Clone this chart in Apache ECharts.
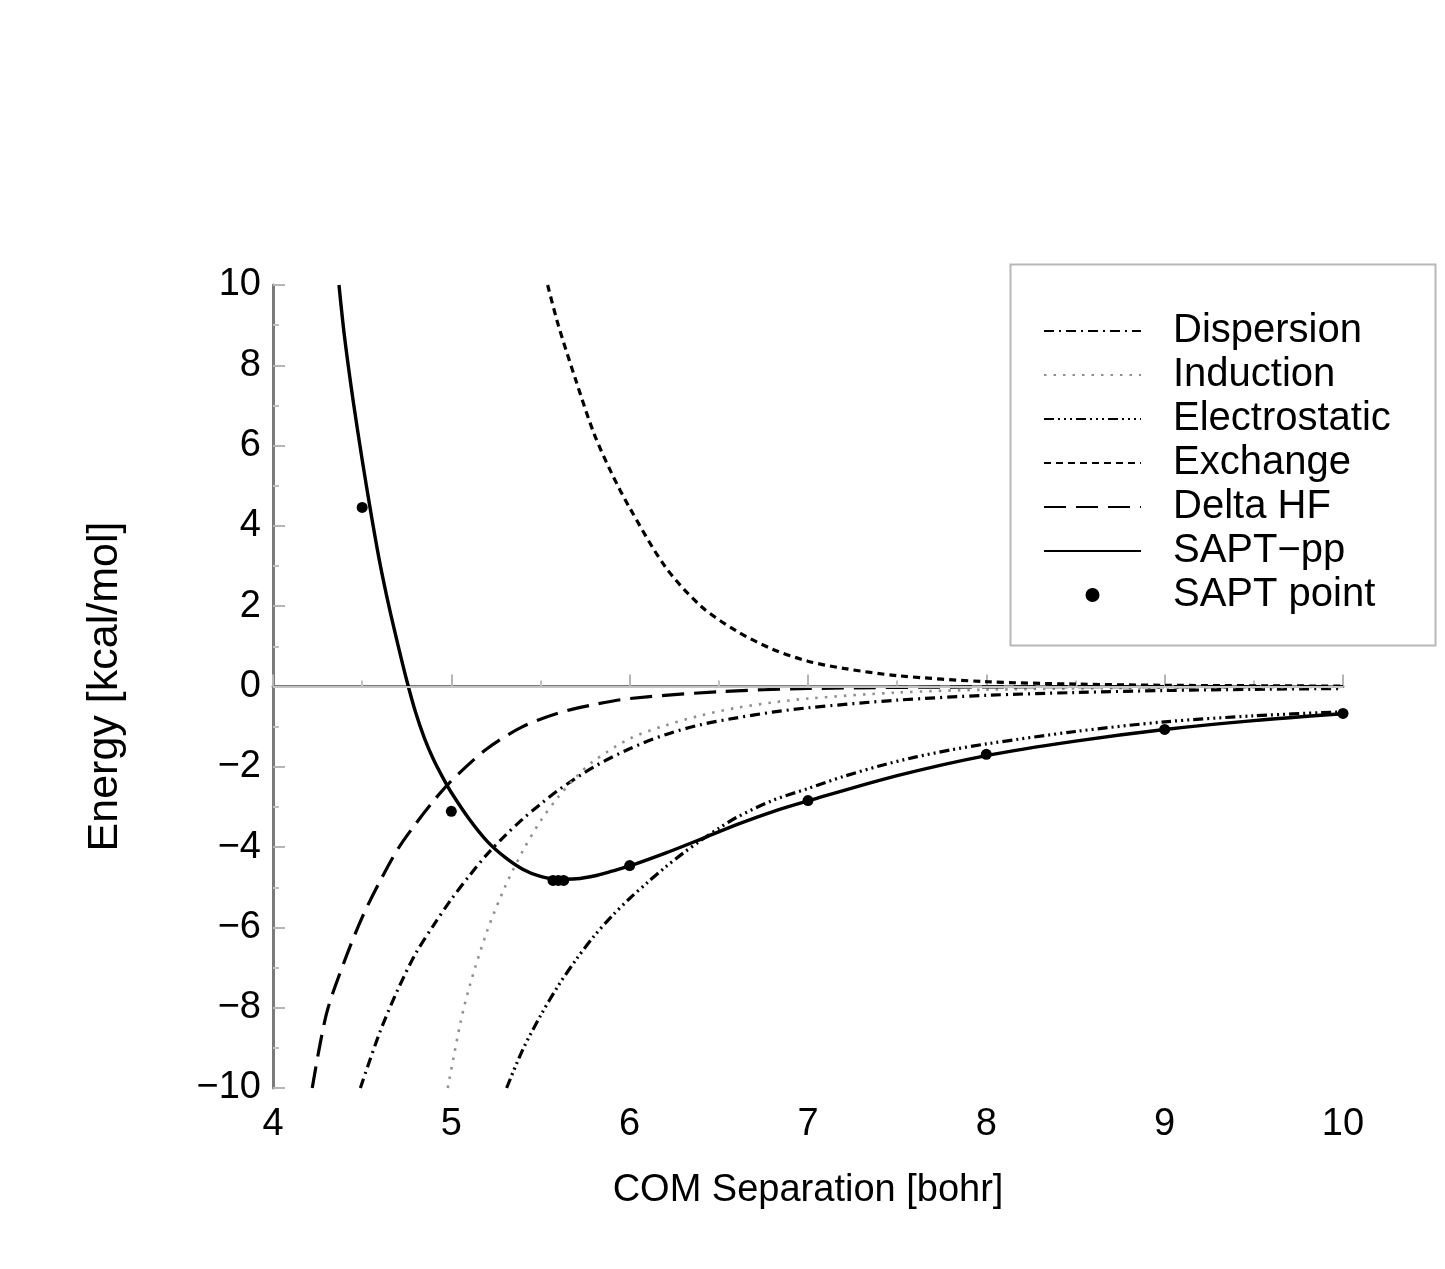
<!DOCTYPE html>
<html>
<head>
<meta charset="utf-8">
<title>SAPT energy components</title>
<script src="https://cdn.jsdelivr.net/npm/echarts@6/dist/echarts.min.js"></script>
<style>
  html, body { margin: 0; padding: 0; background: #fff; }
  #frame { position: absolute; left: 3px; top: 7px; right: 0; bottom: 0;
           border-top: 3px solid #dcdcdc; border-left: 1px solid #d0d0d0; }
  #main { position: absolute; left: 0; top: 0; width: 1445px; height: 1269px; }
</style>
</head>
<body>
<div id="frame"></div>
<div id="main"></div>
<script>
// COM separation (bohr) / energy (kcal/mol)
var sepSapt = [4.37, 4.40, 4.45, 4.50, 4.55, 4.60, 4.65, 4.70, 4.75, 4.80, 4.85, 4.90, 4.95, 5.0, 5.1, 5.2, 5.3, 5.4, 5.5, 5.6, 5.7, 5.8, 5.9, 6.0, 6.2, 6.4, 6.6, 6.8, 7.0, 7.5, 8.0, 8.5, 9.0, 9.5, 10];
var eSapt   = [10, 8.75, 7.1, 5.65, 4.3, 3.06, 2.0, 1.05, 0.15, -0.65, -1.3, -1.82, -2.25, -2.64, -3.3, -3.85, -4.25, -4.55, -4.73, -4.8, -4.79, -4.72, -4.6, -4.47, -4.15, -3.8, -3.44, -3.12, -2.85, -2.22, -1.72, -1.36, -1.07, -0.85, -0.68];

var sepDisp = [4.49, 4.6, 4.7, 4.8, 4.9, 5.0, 5.1, 5.2, 5.3, 5.4, 5.5, 5.6, 5.8, 6.0, 6.2, 6.4, 6.6, 6.8, 7.0, 7.5, 8.0, 8.5, 9.0, 9.5, 10];
var eDisp   = [-10, -8.6, -7.55, -6.65, -5.95, -5.3, -4.72, -4.18, -3.72, -3.3, -2.93, -2.58, -2.0, -1.55, -1.2, -0.95, -0.78, -0.64, -0.53, -0.34, -0.22, -0.15, -0.1, -0.07, -0.05];

var sepInd = [4.98, 5.05, 5.1, 5.2, 5.3, 5.4, 5.5, 5.6, 5.7, 5.8, 6.0, 6.2, 6.4, 6.6, 6.8, 7.0, 7.5, 8.0, 9.0, 10];
var eInd   = [-10, -8.4, -7.5, -6.1, -5.0, -4.1, -3.35, -2.75, -2.25, -1.85, -1.3, -0.97, -0.72, -0.53, -0.4, -0.3, -0.15, -0.08, -0.03, -0.01];

var sepElst = [5.31, 5.4, 5.5, 5.6, 5.7, 5.8, 5.9, 6.0, 6.1, 6.2, 6.3, 6.4, 6.5, 6.6, 6.8, 7.0, 7.2, 7.4, 7.6, 7.8, 8.0, 8.5, 9.0, 9.5, 10];
var eElst   = [-10, -9.05, -8.2, -7.45, -6.8, -6.22, -5.72, -5.28, -4.88, -4.5, -4.15, -3.83, -3.53, -3.26, -2.84, -2.54, -2.24, -1.98, -1.76, -1.58, -1.43, -1.12, -0.88, -0.73, -0.63];

var sepExch = [5.54, 5.6, 5.7, 5.8, 5.9, 6.0, 6.2, 6.4, 6.6, 6.8, 7.0, 7.2, 7.5, 8.0, 8.5, 9.0, 10];
var eExch   = [10, 9.0, 7.6, 6.3, 5.3, 4.45, 2.98, 2.0, 1.38, 0.93, 0.63, 0.45, 0.27, 0.12, 0.06, 0.03, 0.01];

var sepDhf = [4.22, 4.3, 4.4, 4.5, 4.6, 4.7, 4.8, 4.9, 5.0, 5.2, 5.4, 5.6, 5.8, 6.0, 6.5, 7.0, 8.0, 10];
var eDhf   = [-10, -8.15, -6.85, -5.75, -4.85, -4.05, -3.42, -2.85, -2.35, -1.55, -1.0, -0.66, -0.45, -0.3, -0.13, -0.05, -0.01, 0];

var sepPts = [4.5, 5.0, 5.57, 5.6, 5.63, 6.0, 7.0, 8.0, 9.0, 10];
var ePts   = [4.46, -3.11, -4.83, -4.83, -4.83, -4.46, -2.84, -1.69, -1.07, -0.67];

var FONT = 'Liberation Sans, Arial, sans-serif';

function zip(xs, ys){
  var out = [];
  for (var i = 0; i < xs.length; i++) out.push([xs[i], ys[i]]);
  return out;
}

function curve(name, xs, ys, type, color, width){
  return {
    name: name,
    type: 'line',
    data: zip(xs, ys),
    smooth: 0.3,
    symbol: 'none',
    silent: true,
    lineStyle: { color: color, width: width, type: type },
    itemStyle: { color: color }
  };
}

var myChart = echarts.init(document.getElementById('main'));

var series = [
  curve('Dispersion', sepDisp, eDisp, [10, 5, 2, 5], '#000', 3.2),
  curve('Induction', sepInd, eInd, [2.5, 7], '#8f8f8f', 2.6),
  curve('Electrostatic', sepElst, eElst, [10, 4, 2, 4, 2, 4, 2, 4], '#000', 3.2),
  curve('Exchange', sepExch, eExch, [7, 5], '#000', 3.2),
  curve('Delta HF', sepDhf, eDhf, [22, 10], '#000', 3.2),
  curve('SAPT\u2212pp', sepSapt, eSapt, 'solid', '#000', 3.4),
  {
    name: 'SAPT point',
    type: 'scatter',
    data: zip(sepPts, ePts),
    symbol: 'circle',
    symbolSize: 11,
    silent: true,
    itemStyle: { color: '#000', opacity: 1 },
    z: 5
  }
];

// zero reference line
series[0].markLine = {
  silent: true,
  symbol: 'none',
  label: { show: false },
  lineStyle: { color: '#c4c4c4', width: 2, type: 'solid' },
  data: [{ yAxis: 0 }]
};

var lineLegend = function(name){
  return { name: name, itemStyle: { opacity: 0 } };
};

var option = {
  animation: false,
  backgroundColor: '#fff',
  grid: { left: 273, right: 102, top: 285, bottom: 181 },
  xAxis: {
    type: 'value',
    min: 4, max: 10, interval: 1,
    name: 'COM Separation [bohr]',
    nameLocation: 'middle',
    nameGap: 84,
    nameTextStyle: { fontFamily: FONT, fontSize: 38, color: '#000' },
    axisLine: { lineStyle: { color: '#7a7a7a', width: 3 } },
    axisTick: { inside: true, length: 12, lineStyle: { color: '#b5b5b5', width: 2 } },
    minorTick: { show: true, splitNumber: 2, length: 6, lineStyle: { color: '#c0c0c0', width: 2 } },
    axisLabel: { fontFamily: FONT, fontSize: 38, color: '#000', margin: 18 },
    splitLine: { show: false }
  },
  yAxis: {
    type: 'value',
    min: -10, max: 10, interval: 2,
    name: 'Energy [kcal/mol]',
    nameLocation: 'middle',
    nameGap: 146,
    nameTextStyle: { fontFamily: FONT, fontSize: 43, color: '#000' },
    axisLine: { show: true, lineStyle: { color: '#7a7a7a', width: 3 } },
    axisTick: { inside: true, length: 12, lineStyle: { color: '#b5b5b5', width: 2 } },
    minorTick: { show: true, splitNumber: 2, length: 6, lineStyle: { color: '#c0c0c0', width: 2 } },
    axisLabel: {
      fontFamily: FONT, fontSize: 38, color: '#000', margin: 12,
      formatter: function(v){ return String(v).replace('-', '\u2212'); }
    },
    splitLine: { show: false }
  },
  legend: {
    orient: 'vertical',
    left: 1043,
    top: 309,
    padding: 0,
    itemGap: 0,
    itemWidth: 97,
    itemHeight: 14,
    selectedMode: false,
    textStyle: { fontFamily: FONT, fontSize: 40, color: '#000', lineHeight: 44, padding: [0, 0, 0, 27] },
    data: [
      lineLegend('Dispersion'), lineLegend('Induction'), lineLegend('Electrostatic'),
      lineLegend('Exchange'), lineLegend('Delta HF'), lineLegend('SAPT\u2212pp'),
      { name: 'SAPT point', icon: 'circle', itemStyle: { opacity: 1, color: '#000' } }
    ]
  },
  graphic: [{
    type: 'rect',
    left: 1008, top: 262,
    shape: { width: 425, height: 381 },
    style: { fill: 'none', stroke: '#b8b8b8', lineWidth: 2 },
    silent: true
  }],
  series: series
};

myChart.setOption(option);
</script>
</body>
</html>
